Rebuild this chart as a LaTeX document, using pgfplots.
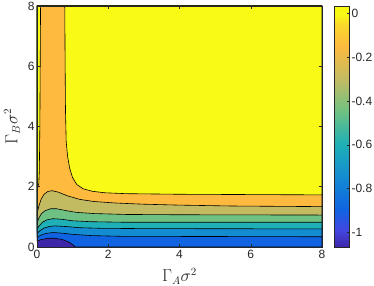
\documentclass[border=0pt]{standalone}
\usepackage{pgfplots}
\pgfplotsset{compat=1.18}
\usepackage{fontspec}
\setmainfont{Liberation Sans}
\definecolor{axgray}{gray}{0.15}
\definecolor{cL0}{RGB}{62,38,168}
\definecolor{cL1}{RGB}{16,100,226}
\definecolor{cL2}{RGB}{20,140,210}
\definecolor{cL3}{RGB}{30,176,182}
\definecolor{cL4}{RGB}{110,193,130}
\definecolor{cL5}{RGB}{195,187,98}
\definecolor{cL6}{RGB}{253,186,62}
\definecolor{cL7}{RGB}{249,250,22}
\pgfplotsset{
  colormap={parula}{
    rgb255(0)=(62,38,168)
    rgb255(70)=(66,70,225)
    rgb255(157)=(16,100,226)
    rgb255(292)=(20,140,210)
    rgb255(427)=(30,176,182)
    rgb255(562)=(110,193,130)
    rgb255(697)=(195,187,98)
    rgb255(832)=(253,186,62)
    rgb255(920)=(250,215,45)
    rgb255(967)=(249,250,22)
    rgb255(1000)=(249,251,14)
  }
}
\begin{document}
\begin{tikzpicture}
\begin{axis}[
  name=ax,
  scale only axis, width=285pt, height=241pt,
  xmin=0, xmax=8, ymin=0, ymax=8,
  xtick={0,2,4,6,8}, xticklabels={0,2,4,6,8},
  ytick={0,2,4,6,8}, yticklabels={0,2,4,6,8},
  tick align=inside, major tick length=3pt,
  axis line style={axgray, line width=0.5pt},
  every tick/.style={axgray, line width=0.5pt},
  ticklabel style={font=\fontsize{12}{14}\selectfont, text=axgray},
  yticklabel style={xshift=1pt},
  xticklabel style={yshift=-2pt, inner sep=1pt},
  xlabel={$\Gamma_{A}\sigma^2$}, ylabel={$\Gamma_{B}\sigma^2$},
  label style={font=\fontsize{16}{18}\selectfont, text=axgray, inner sep=1pt},
  xlabel style={at={(axis description cs:0.5,-0.122)}, anchor=center},
  ylabel style={at={(axis description cs:-0.088,0.5)}, anchor=center},
  axis on top,
  colormap name=parula,
  colorbar,
  point meta min=-1.066, point meta max=0.033,
  colorbar style={
    at={(parent axis.north east)}, anchor=north west, xshift=4pt,
    width=15pt, height=241pt,
    ytick={-1,-0.8,-0.6,-0.4,-0.2,0},
    yticklabels={-1,-0.8,-0.6,-0.4,-0.2,0},
    yticklabel pos=right, ytick pos=right,
    tick align=inside, major tick length=2.5pt,
    axis line style={axgray, line width=0.5pt},
    every tick/.style={axgray, line width=0.5pt},
    yticklabel style={font=\fontsize{12}{14}\selectfont, text=axgray, xshift=-1.5pt},
  },
]
% background: lowest band
\addplot[fill=cL0, draw=none] coordinates {(0,0) (8,0) (8,8) (0,8)} --cycle;
% level 1
\addplot[fill=cL1, draw=black, line width=0.6pt] coordinates {
 (0,0.19) (0.1,0.24) (0.3,0.29) (0.5,0.29) (0.7,0.25) (0.85,0.19) (0.95,0.12) (1.02,0.06) (1.07,0)
 (8,0) (8,8) (0,8)} --cycle;
% level 2
\addplot[fill=cL2, draw=black, line width=0.6pt] coordinates {
 (0,0.31) (0.1,0.39) (0.25,0.45) (0.45,0.48) (0.7,0.46) (1.0,0.42) (1.5,0.38) (2.5,0.35) (4,0.35) (8,0.34)
 (8,8) (0,8)} --cycle;
% level 3
\addplot[fill=cL3, draw=black, line width=0.6pt] coordinates {
 (0,0.44) (0.08,0.54) (0.2,0.63) (0.35,0.68) (0.5,0.70) (0.8,0.68) (1.2,0.64) (1.8,0.62) (3,0.61) (8,0.60)
 (8,8) (0,8)} --cycle;
% level 4
\addplot[fill=cL4, draw=black, line width=0.6pt] coordinates {
 (0,0.58) (0.06,0.70) (0.15,0.82) (0.28,0.90) (0.45,0.94) (0.7,0.92) (1.0,0.87) (1.5,0.84) (2.5,0.82) (4,0.82) (8,0.82)
 (8,8) (0,8)} --cycle;
% level 5
\addplot[fill=cL5, draw=black, line width=0.6pt] coordinates {
 (0,0.80) (0.05,0.95) (0.12,1.10) (0.22,1.20) (0.38,1.27) (0.55,1.27) (0.8,1.21) (1.1,1.15) (1.6,1.11) (2.5,1.08) (4,1.07) (8,1.06)
 (8,8) (0,8)} --cycle;
% level 6
\addplot[fill=cL6, draw=black, line width=0.6pt] coordinates {
 (0,1.10) (0.05,1.35) (0.12,1.60) (0.2,1.75) (0.3,1.84) (0.42,1.87) (0.6,1.82) (0.85,1.70) (1.2,1.58) (1.6,1.51) (2.2,1.46) (3,1.42) (4,1.39) (5.5,1.36) (8,1.34)
 (8,8) (0,8)} --cycle;
% level 7 (main region)
\addplot[fill=cL7, draw=black, line width=0.6pt] coordinates {
 (0.78,8) (0.79,6) (0.80,4.5) (0.82,3.5) (0.86,3.0) (0.92,2.6) (1.0,2.3) (1.12,2.07) (1.3,1.93) (1.55,1.85) (1.9,1.80) (2.5,1.77) (4,1.75) (8,1.73)
 (8,8)} --cycle;
% level 7 (thin strip at the left edge)
\addplot[fill=cL7, draw=black, line width=0.6pt] coordinates {
 (0,1.90) (0.05,2.1) (0.065,2.5) (0.08,4) (0.1,8) (0,8)} --cycle;
\coordinate (bl) at (rel axis cs:0,0);
\coordinate (tr) at (rel axis cs:1,1);
\end{axis}
\pgfresetboundingbox
\path ([shift={(-37pt,-39pt)}]bl) rectangle ([shift={(52pt,6pt)}]tr);
\end{tikzpicture}
\end{document}
